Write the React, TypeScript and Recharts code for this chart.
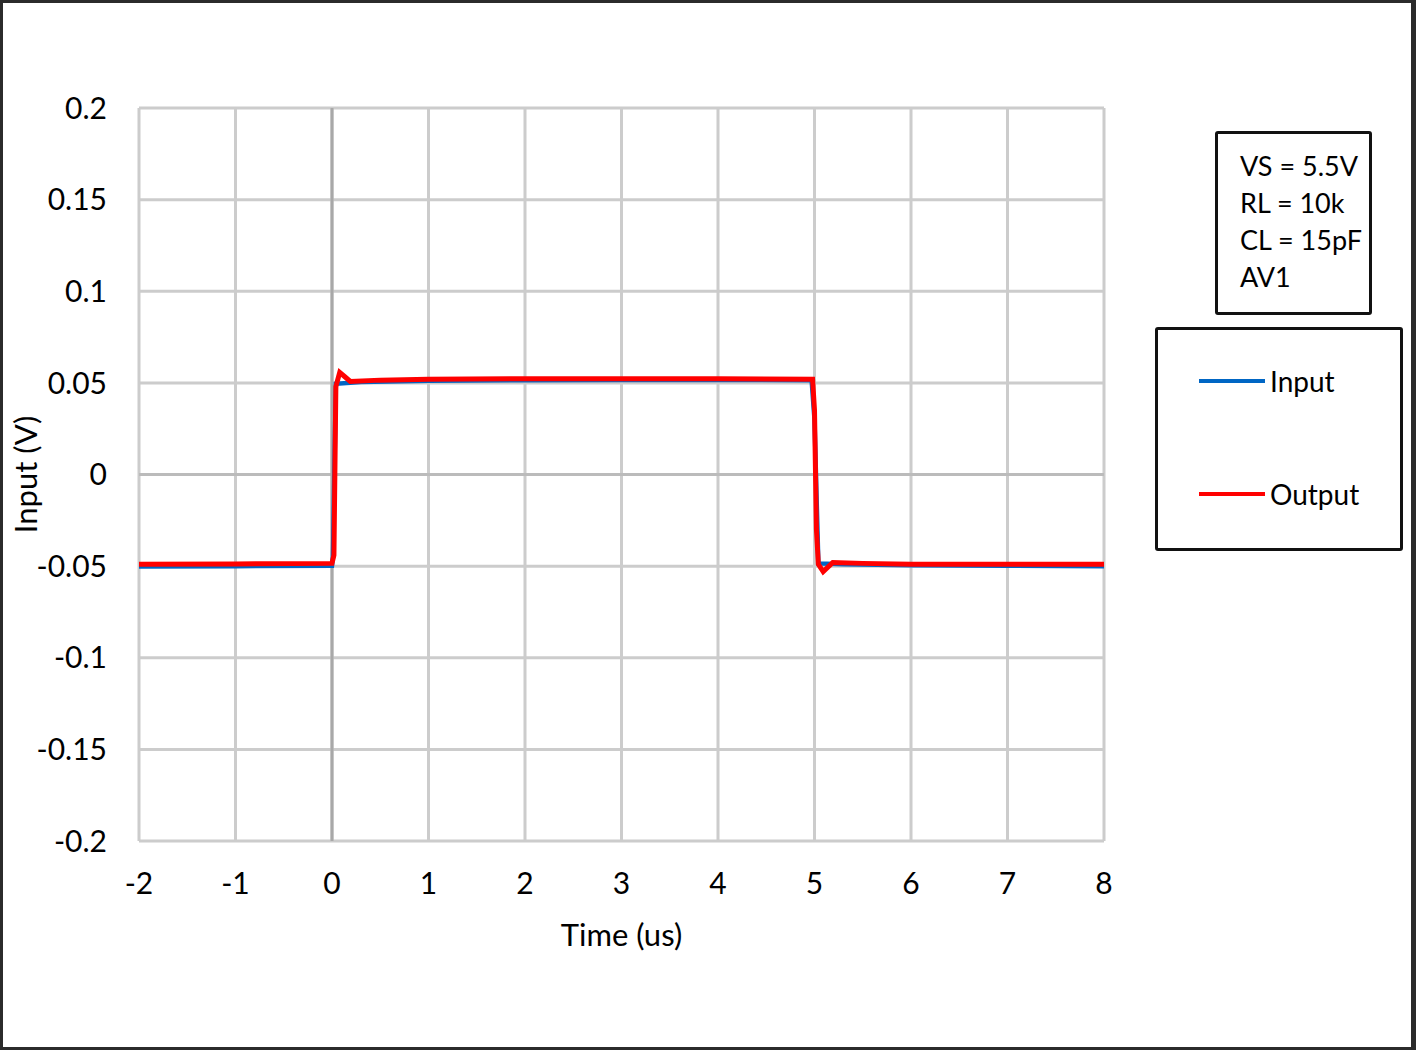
import { LineChart, Line, XAxis, YAxis, CartesianGrid, ReferenceLine, Legend } from 'recharts';

const FONT = 'Lato, "Open Sans", sans-serif';

const xTicks = [-2, -1, 0, 1, 2, 3, 4, 5, 6, 7, 8];
const yTicks = [-0.2, -0.15, -0.1, -0.05, 0, 0.05, 0.1, 0.15, 0.2];

// time in us, volts
const inputTime = [-2, -1, 0, 0.01, 0.04, 0.3, 1, 2, 3, 4, 4.97, 5.0, 5.04, 5.3, 6, 7, 8];
const inputVolts = [
  -0.0502, -0.05, -0.0498, -0.045, 0.0495, 0.0505, 0.0512, 0.0515, 0.0516, 0.0516, 0.0515,
  0.03, -0.0485, -0.049, -0.0495, -0.0498, -0.05,
];

const outputTime = [
  -2, -1, 0, 0.02, 0.04, 0.08, 0.13, 0.19, 0.5, 1, 2, 3, 4, 4.98, 5.0, 5.02, 5.04, 5.09, 5.19,
  5.5, 6, 7, 8,
];
const outputVolts = [
  -0.049, -0.0488, -0.0485, -0.044, 0.048, 0.0557, 0.0535, 0.0508, 0.0515, 0.052, 0.0523,
  0.0523, 0.0522, 0.052, 0.035, -0.03, -0.049, -0.053, -0.048, -0.0485, -0.049, -0.049, -0.049,
];

const seriesNames = ['Input', 'Output'];
const seriesColors = ['#0066C4', '#FF0000'];
const seriesWidths = [4.5, 5];

const notes = ['VS = 5.5V', 'RL = 10k', 'CL = 15pF', 'AV1'];

const inputData = inputTime.map((t, i) => ({ t, v: inputVolts[i] }));
const outputData = outputTime.map((t, i) => ({ t, v: outputVolts[i] }));

const tickStyle = { fill: '#000', fontSize: 30, fontFamily: FONT };

const LegendBox = ({ payload }: { payload?: { value: string; color: string }[] }) => (
  <div
    style={{
      boxSizing: 'border-box',
      width: 248,
      height: 224,
      border: '3px solid #111',
      borderRadius: 3,
      background: '#fff',
      paddingTop: 31,
      paddingLeft: 41,
      fontFamily: FONT,
    }}
  >
    {(payload ?? []).map((p) => (
      <div key={p.value} style={{ display: 'flex', alignItems: 'center', height: 40, marginBottom: 73 }}>
        <span style={{ display: 'inline-block', width: 66, height: 4, background: p.color, marginRight: 5 }} />
        <span style={{ fontSize: 28, color: '#000' }}>{p.value}</span>
      </div>
    ))}
  </div>
);

export default function App() {
  return (
    <div
      style={{
        position: 'fixed',
        left: 0,
        top: 0,
        width: 1416,
        height: 1050,
        background: '#fff',
        fontFamily: FONT,
      }}
    >
      <LineChart width={1416} height={1050} margin={{ top: 108, right: 312, bottom: 89, left: 0 }}>
        <CartesianGrid stroke="#cccccc" strokeWidth={3} />
        <XAxis
          type="number"
          dataKey="t"
          domain={[-2, 8]}
          ticks={xTicks}
          interval={0}
          height={120}
          axisLine={false}
          tickLine={false}
          tickSize={0}
          tickMargin={32}
          tick={tickStyle}
          label={{
            value: 'Time (us)',
            position: 'insideBottom',
            offset: 15,
            style: { fill: '#000', fontSize: 31, fontFamily: FONT },
          }}
        />
        <YAxis
          type="number"
          domain={[-0.2, 0.2]}
          ticks={yTicks}
          interval={0}
          width={139}
          axisLine={false}
          tickLine={false}
          tickSize={0}
          tickMargin={32}
          tick={tickStyle}
          tickFormatter={(v: number) => String(v)}
          label={{
            value: 'Input (V)',
            angle: -90,
            position: 'insideLeft',
            offset: 26,
            style: { textAnchor: 'middle', fill: '#000', fontSize: 31, fontFamily: FONT },
          }}
        />
        <ReferenceLine y={0} stroke="#bbbbbb" strokeWidth={3} />
        <ReferenceLine x={0} stroke="#a8a8a8" strokeWidth={3} />
        <Legend
          layout="vertical"
          align="center"
          verticalAlign="middle"
          wrapperStyle={{ left: 1155, top: 327, width: 248, height: 224 }}
          content={(props: any) => <LegendBox payload={props.payload} />}
        />
        {[inputData, outputData].map((d, i) => (
          <Line
            key={seriesNames[i]}
            data={d}
            dataKey="v"
            name={seriesNames[i]}
            type="linear"
            stroke={seriesColors[i]}
            strokeWidth={seriesWidths[i]}
            dot={false}
            activeDot={false}
            isAnimationActive={false}
          />
        ))}
      </LineChart>
      <div
        style={{
          position: 'absolute',
          left: 1215,
          top: 131,
          width: 157,
          height: 184,
          boxSizing: 'border-box',
          border: '3px solid #111',
          borderRadius: 3,
          background: '#fff',
          paddingTop: 13,
          paddingLeft: 22,
          fontSize: 27,
          lineHeight: '37px',
          color: '#000',
        }}
      >
        {notes.map((n) => (
          <div key={n}>{n}</div>
        ))}
      </div>
      <div
        style={{
          position: 'absolute',
          left: 0,
          top: 0,
          width: 1416,
          height: 1050,
          boxSizing: 'border-box',
          borderTop: '3px solid #2b2b2b',
          borderLeft: '3px solid #2b2b2b',
          borderBottom: '3px solid #2b2b2b',
          borderRight: '5px solid #2b2b2b',
          pointerEvents: 'none',
        }}
      />
    </div>
  );
}
